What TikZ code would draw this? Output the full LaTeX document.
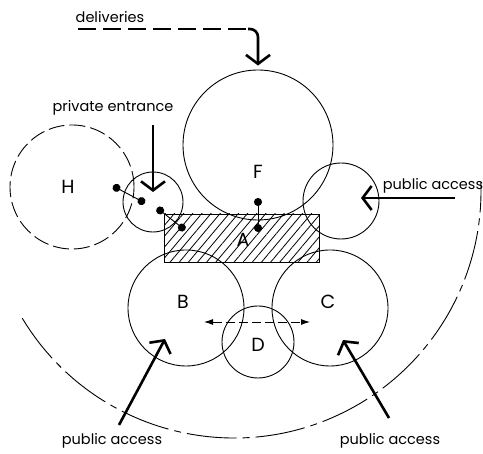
\documentclass[tikz,border=0pt]{standalone}
\usepackage{fontspec}
\setmainfont{Poppins}
\usetikzlibrary{arrows.meta,patterns.meta}

\begin{document}
\begin{tikzpicture}[x=1pt,y=1pt,
        zone/.style={draw, circle, line width=0.9pt, inner sep=0pt},
        letter/.style={font=\fontsize{19}{19}\selectfont},
        caption/.style={font=\fontsize{14.5}{14.5}\selectfont},
        access/.style={line width=2.6pt, -{Straight Barb[length=9pt,width=24pt]}},
        link/.style={line width=0.9pt, {Circle[length=8pt]}-{Circle[length=8pt]}}]
    \useasboundingbox (0,0) rectangle (483,454);

    % hatched core
    \node[draw, line width=0.9pt, minimum width=155pt, minimum height=48pt,
          pattern={Lines[angle=50,distance=7pt,line width=0.8pt]}] (A) at (241.5,216) {};

    % zones
    \node[zone, minimum size=150pt] (F) at (258,309) {};
    \node[zone, dash pattern=on 16pt off 5pt, minimum size=124pt] (H) at (72,267) {};
    \node[zone, minimum size=60pt] (P) at (153,252) {};
    \node[zone, minimum size=76pt] (E) at (341,253) {};
    \node[zone, minimum size=116pt] (B) at (186,146) {};
    \node[zone, minimum size=116pt] (C) at (330,146) {};
    \node[zone, minimum size=72pt] (D) at (258,112) {};

    \node[letter] (Ht) at (68,267) {H};
    \node[letter] (Ft) at (258,282) {F};
    \node[letter] (At) at (243,214) {A};
    \node[letter] (Bt) at (183,152) {B};
    \node[letter] (Ct) at (328,152) {C};
    \node[letter] (Dt) at (258,109) {D};

    % outer boundary
    \coordinate (site) at (234,263);
    \draw[line width=0.9pt, dash pattern=on 50pt off 6pt on 7pt off 6pt]
        (site) ++(211:247) arc[start angle=211, end angle=362, radius=247];

    % links between zones
    \coordinate (h1) at (113,268);
    \coordinate (h2) at (145,251);
    \coordinate (p1) at (157,246);
    \coordinate (p2) at (185,224);
    \coordinate (f1) at (258,256);
    \coordinate (f2) at (258,222);
    \draw[link] (h1) -- (h2);
    \draw[link] (p1) -- (p2);
    \draw[link] (f1) -- (f2);

    \draw[line width=0.9pt, dash pattern=on 9pt off 4pt,
          {Latex[length=9pt,width=6pt]}-{Latex[length=9pt,width=6pt]}]
        ([xshift=18pt,yshift=-14pt]B.center) -- ([xshift=-20pt,yshift=-14pt]C.center);

    % deliveries
    \coordinate (deliv) at (78,425);
    \coordinate (bend) at (258,425);
    \draw[line width=2.6pt, dash pattern=on 18pt off 7pt] (deliv) -- ([xshift=-9pt]bend);
    \draw[access, rounded corners=8pt] ([xshift=-10pt]bend) -- (bend) -- ([yshift=4pt]F.north);
    \node[caption] (delivt) at (110,437) {deliveries};

    % private entrance
    \coordinate (priv) at (153,329);
    \draw[access, shorten >=10pt] (priv) -- (P.center);
    \node[caption] (privt) at (113,346) {private entrance};

    % public access
    \coordinate (pubE) at (455,256);
    \coordinate (pubEtip) at (361,256);
    \coordinate (pubB) at (119,29);
    \coordinate (pubBtip) at (165,115);
    \coordinate (pubC) at (389,36);
    \coordinate (pubCtip) at (343,114);
    \draw[access] (pubE) -- (pubEtip);
    \draw[access] (pubB) -- (pubBtip);
    \draw[access] (pubC) -- (pubCtip);
    \node[caption] (pubEt) at (433,268) {public access};
    \node[caption] (pubBt) at (112,13) {public access};
    \node[caption] (pubCt) at (390,13) {public access};
\end{tikzpicture}
\end{document}
